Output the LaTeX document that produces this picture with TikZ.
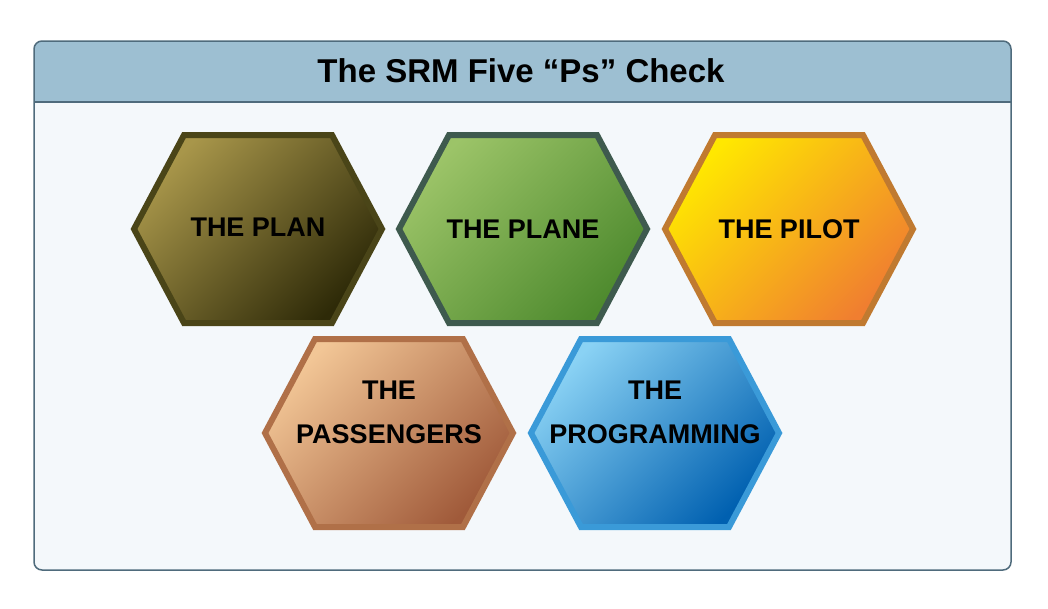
\documentclass[tikz,border=0pt]{standalone}
\usepackage{fontspec}
\setmainfont{Liberation Sans}
\begin{document}
\begin{tikzpicture}[x=1pt,y=-1pt,
  hexlabel/.style={font=\bfseries\fontsize{27}{32}\selectfont,align=center,text=black}]
\useasboundingbox (0,0) rectangle (1048,608);
\def\hex#1#2#3#4#5{% cx cy fill1 fill2 border
  \shade[left color=#3,right color=#4,shading angle=45,draw=#5,line width=6pt,line join=miter]
   (#1-124,#2) -- (#1-74,#2-94) -- (#1+74,#2-94) -- (#1+124,#2) -- (#1+74,#2+94) -- (#1-74,#2+94) -- cycle;}
\definecolor{hdr}{HTML}{9DBFD2}
\definecolor{bodyc}{HTML}{F4F8FB}
\definecolor{frame}{HTML}{4F6B7C}
\definecolor{p1a}{HTML}{A8964A}\definecolor{p1b}{HTML}{2E2A08}\definecolor{p1c}{HTML}{4A4518}
\definecolor{p2a}{HTML}{9CC468}\definecolor{p2b}{HTML}{4E8A2E}\definecolor{p2c}{HTML}{3E5A4E}
\definecolor{p3a}{HTML}{FFE800}\definecolor{p3b}{HTML}{F07E30}\definecolor{p3c}{HTML}{C07A30}
\definecolor{p4a}{HTML}{F2C696}\definecolor{p4b}{HTML}{A05A3A}\definecolor{p4c}{HTML}{B07048}
\definecolor{p5a}{HTML}{8AD2F4}\definecolor{p5b}{HTML}{0060B0}\definecolor{p5c}{HTML}{3A9AD8}
\fill[bodyc,rounded corners=8pt] (34,41) rectangle (1011,570);
\fill[hdr,rounded corners=8pt] (34,41) rectangle (1011,102);
\fill[hdr] (34,80) rectangle (1011,102);
\draw[frame,line width=1.2pt] (34,102) -- (1011,102);
\draw[frame,line width=1.5pt,rounded corners=8pt] (34,41) rectangle (1011,570);
\node[font=\bfseries\fontsize{33}{40}\selectfont] (title) at (521,71) {The SRM Five “Ps” Check};
\hex{258}{229}{p1a}{p1b}{p1c}
\hex{523}{229}{p2a}{p2b}{p2c}
\hex{789}{229}{p3a}{p3b}{p3c}
\hex{389}{433}{p4a}{p4b}{p4c}
\hex{655}{433}{p5a}{p5b}{p5c}
\node[hexlabel] (plan) at (258,227) {THE PLAN};
\node[hexlabel] (plane) at (523,229) {THE PLANE};
\node[hexlabel] (pilot) at (789,229) {THE PILOT};
\node[hexlabel] (pass) at (389,412) {THE\\[12pt]PASSENGERS};
\node[hexlabel] (prog) at (655,412) {THE\\[12pt]PROGRAMMING};
\end{tikzpicture}
\end{document}
